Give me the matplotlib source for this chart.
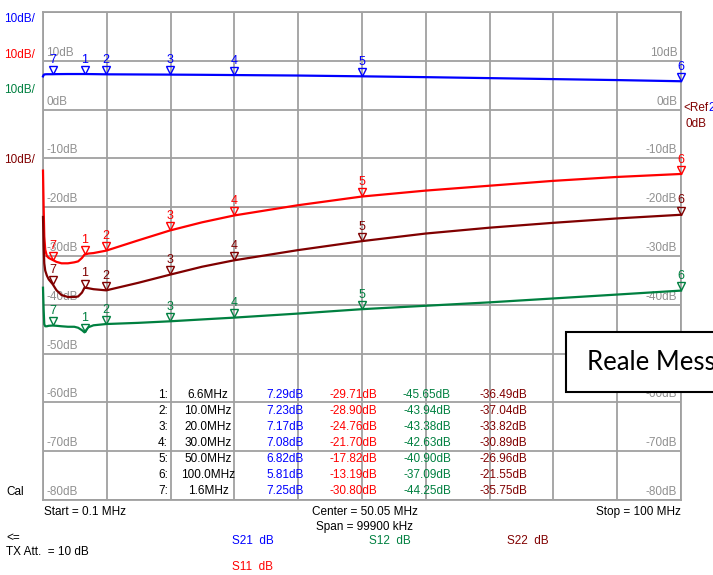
import matplotlib
matplotlib.use("Agg")
import matplotlib.pyplot as plt
from matplotlib.patches import Rectangle
from matplotlib.transforms import offset_copy

plt.rcParams['font.family'] = ['Liberation Sans', 'DejaVu Sans']

# trace samples (MHz, dB)
freq = [0.1, 0.2, 0.3, 0.45, 0.7, 1.0, 1.6, 2.2, 3.0, 4.0, 5.0, 5.6, 6.2, 6.6,
        7.2, 8.0, 10, 15, 20, 25, 30, 40, 50, 60, 70, 80, 90, 100]
s21 = [6.8, 7.1, 7.2, 7.23, 7.25, 7.25, 7.25, 7.27, 7.28, 7.29, 7.29, 7.29, 7.29, 7.29,
       7.28, 7.27, 7.23, 7.2, 7.17, 7.13, 7.08, 6.98, 6.82, 6.65, 6.45, 6.25, 6.05, 5.81]
s11 = [-12.5, -20, -26, -28.7, -30.0, -30.4, -30.8, -31.2, -31.5, -31.5, -31.3, -31.1, -30.4, -29.71,
       -29.5, -29.4, -28.9, -26.8, -24.76, -23.1, -21.7, -19.6, -17.82, -16.6, -15.6, -14.6, -13.8, -13.19]
s12 = [-36.5, -41, -44.0, -44.4, -44.4, -44.3, -44.25, -44.3, -44.4, -44.5, -44.5, -44.7, -45.2, -45.65,
       -44.6, -44.2, -43.94, -43.7, -43.38, -43.0, -42.63, -41.8, -40.9, -40.2, -39.5, -38.7, -37.9, -37.09]
s22 = [-22, -28, -31.5, -33, -34, -34.8, -35.75, -37.0, -38.0, -38.4, -38.4, -38.3, -37.5, -36.49,
       -36.6, -36.8, -37.04, -35.5, -33.82, -32.2, -30.89, -28.8, -26.96, -25.4, -24.2, -23.2, -22.3, -21.55]

# marker table
mk_num = ['1', '2', '3', '4', '5', '6', '7']
mk_freq = [6.6, 10.0, 20.0, 30.0, 50.0, 100.0, 1.6]
mk_s21 = [7.29, 7.23, 7.17, 7.08, 6.82, 5.81, 7.25]
mk_s11 = [-29.71, -28.90, -24.76, -21.70, -17.82, -13.19, -30.80]
mk_s12 = [-45.65, -43.94, -43.38, -42.63, -40.90, -37.09, -44.25]
mk_s22 = [-36.49, -37.04, -33.82, -30.89, -26.96, -21.55, -35.75]

db_levels = [10, 0, -10, -20, -30, -40, -50, -60, -70, -80]

BLUE, RED, GREEN, DRED = '#0000ff', '#ff0000', '#008040', '#800000'
GREY = '#a0a0a0'
W, H = 713, 575

def px(x, y):
    return x / W, 1 - y / H

fig = plt.figure(figsize=(W / 100, H / 100), dpi=100)
ax = fig.add_axes([43 / W, 1 - 500 / H, 638 / W, 488 / H])
ax.set_xlim(0.1, 100)
ax.set_ylim(-80, 20)
ax.set_xticks([0.1 + 9.99 * i for i in range(11)])
ax.set_yticks(range(-80, 21, 10))
ax.grid(color=GREY, lw=1.3)
ax.tick_params(length=0, labelbottom=False, labelleft=False)
for s in ax.spines.values():
    s.set_color(GREY)
    s.set_linewidth(1.3)

for v in db_levels:
    ax.annotate('%ddB' % v, xy=(0.005, v), xycoords=('axes fraction', 'data'),
                xytext=(0, 1.5), textcoords='offset points', va='bottom', ha='left',
                color='#909090', fontsize=8.5, zorder=1)
    ax.annotate('%ddB' % v, xy=(0.994, v), xycoords=('axes fraction', 'data'),
                xytext=(0, 1.5), textcoords='offset points', va='bottom', ha='right',
                color='#909090', fontsize=8.5, zorder=1)

traces = [(s21, mk_s21, BLUE), (s11, mk_s11, RED), (s12, mk_s12, GREEN), (s22, mk_s22, DRED)]
tri = offset_copy(ax.transData, fig=fig, x=0, y=3, units='points')
for vals, mvals, col in traces:
    ax.plot(freq, vals, color=col, lw=1.6, zorder=3, clip_on=False)
    ax.plot(mk_freq, mvals, ls='none', marker='v', ms=6, mfc='none', mec=col, mew=1,
            transform=tri, clip_on=False, zorder=4)
    for n, f, v in zip(mk_num, mk_freq, mvals):
        ax.annotate(n, xy=(f, v), xytext=(0, 6), textcoords='offset points',
                    ha='center', va='bottom', color=col, fontsize=9, zorder=4,
                    annotation_clip=False)

# marker readout table
for i in range(7):
    y = 395.5 + 16 * i
    fig.text(*px(168, y), mk_num[i] + ':', ha='right', va='center', fontsize=8.5)
    fig.text(*px(208, y), '%.1fMHz' % mk_freq[i], ha='center', va='center', fontsize=8.5)
    fig.text(*px(304, y), '%.2fdB' % mk_s21[i], ha='right', va='center', fontsize=8.5, color=BLUE)
    fig.text(*px(377, y), '%.2fdB' % mk_s11[i], ha='right', va='center', fontsize=8.5, color=RED)
    fig.text(*px(451, y), '%.2fdB' % mk_s12[i], ha='right', va='center', fontsize=8.5, color=GREEN)
    fig.text(*px(527, y), '%.2fdB' % mk_s22[i], ha='right', va='center', fontsize=8.5, color=DRED)

# scale labels on the left
for y, col in [(19, BLUE), (55, RED), (90, GREEN), (160, DRED)]:
    fig.text(*px(4, y), '10dB/', ha='left', va='center', fontsize=8.5, color=col)

fig.text(*px(683, 108), '<Ref', ha='left', va='center', fontsize=8.5, color=DRED)
fig.text(*px(708, 108), '2', ha='left', va='center', fontsize=8.5, color=BLUE)
fig.text(*px(686, 124), '0dB', ha='left', va='center', fontsize=8.5, color=DRED)

# footer
fig.text(*px(6, 492), 'Cal', ha='left', va='center', fontsize=8.5)
fig.text(*px(44, 512), 'Start = 0.1 MHz', ha='left', va='center', fontsize=8.5)
fig.text(*px(365, 512), 'Center = 50.05 MHz', ha='center', va='center', fontsize=8.5)
fig.text(*px(365, 527), 'Span = 99900 kHz', ha='center', va='center', fontsize=8.5)
fig.text(*px(681, 512), 'Stop = 100 MHz', ha='right', va='center', fontsize=8.5)
fig.text(*px(6, 538), '<=', ha='left', va='center', fontsize=8.5)
fig.text(*px(6, 552), 'TX Att.  = 10 dB', ha='left', va='center', fontsize=8.5)
fig.text(*px(232, 541), 'S21  dB', ha='left', va='center', fontsize=8.5, color=BLUE)
fig.text(*px(369, 541), 'S12  dB', ha='left', va='center', fontsize=8.5, color=GREEN)
fig.text(*px(507, 541), 'S22  dB', ha='left', va='center', fontsize=8.5, color=DRED)
fig.text(*px(232, 567), 'S11  dB', ha='left', va='center', fontsize=8.5, color=RED)

# overlay box
x0, y0 = px(566, 392)
fig.add_artist(Rectangle((x0, y0), 200 / W, 60 / H, transform=fig.transFigure,
                         facecolor='white', edgecolor='black', lw=1.5, zorder=10, clip_on=False))
fig.text(*px(587, 362), 'Reale Mess', ha='left', va='center', fontsize=18.5,
         family=['Lato', 'DejaVu Sans'], zorder=11)

fig.savefig('out.png', dpi=100)
